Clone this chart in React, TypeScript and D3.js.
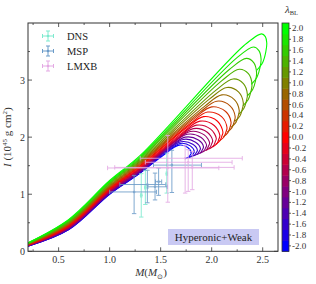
import React from "react";
import * as d3 from "d3";

// lambda_BL values, one I(M) sequence each
const lambdaValues = [-2.0, -1.8, -1.6, -1.4, -1.2, -1.0, -0.8, -0.6, -0.4, -0.2, 0.0, 0.2, 0.4, 0.6, 0.8, 1.0, 1.2, 1.4, 1.6, 1.8, 2.0];

// low-mass part of every sequence, I at these masses
const stableMass = [0.2, 0.6, 1.0, 1.3];
const stableInertia = [
  [0.090, 0.380, 1.000, 1.370],
  [0.091, 0.383, 1.004, 1.375],
  [0.092, 0.387, 1.010, 1.382],
  [0.094, 0.393, 1.017, 1.392],
  [0.096, 0.399, 1.025, 1.403],
  [0.099, 0.406, 1.034, 1.415],
  [0.101, 0.413, 1.044, 1.427],
  [0.104, 0.421, 1.055, 1.441],
  [0.107, 0.430, 1.066, 1.456],
  [0.110, 0.439, 1.078, 1.471],
  [0.113, 0.448, 1.091, 1.487],
  [0.116, 0.458, 1.104, 1.504],
  [0.119, 0.468, 1.117, 1.522],
  [0.123, 0.478, 1.131, 1.540],
  [0.126, 0.489, 1.146, 1.558],
  [0.130, 0.500, 1.160, 1.577],
  [0.134, 0.512, 1.176, 1.597],
  [0.138, 0.523, 1.191, 1.617],
  [0.142, 0.535, 1.207, 1.638],
  [0.146, 0.548, 1.223, 1.659],
  [0.150, 0.560, 1.240, 1.680],
];

// upper part: approach, top, shoulder, max mass, unstable hook
const hookPoints = [
  [[1.51, 1.66], [1.68, 1.86], [1.766, 1.818], [1.80, 1.72], [1.79, 1.688], [1.776, 1.652], [1.74, 1.624]],
  [[1.52, 1.69], [1.69, 1.89], [1.791, 1.847], [1.83, 1.745], [1.82, 1.71], [1.806, 1.67], [1.769, 1.639]],
  [[1.53, 1.72], [1.70, 1.92], [1.815, 1.875], [1.86, 1.77], [1.85, 1.732], [1.835, 1.688], [1.798, 1.655]],
  [[1.55, 1.76], [1.72, 1.96], [1.842, 1.912], [1.89, 1.80], [1.88, 1.758], [1.865, 1.712], [1.827, 1.675]],
  [[1.57, 1.80], [1.74, 2.00], [1.87, 1.949], [1.92, 1.83], [1.91, 1.785], [1.894, 1.735], [1.856, 1.696]],
  [[1.59, 1.85], [1.76, 2.05], [1.897, 1.993], [1.95, 1.86], [1.94, 1.812], [1.924, 1.758], [1.885, 1.716]],
  [[1.62, 1.90], [1.79, 2.10], [1.927, 2.04], [1.98, 1.90], [1.97, 1.847], [1.953, 1.788], [1.914, 1.742]],
  [[1.65, 1.95], [1.82, 2.15], [1.957, 2.087], [2.01, 1.94], [2.00, 1.882], [1.983, 1.818], [1.942, 1.767]],
  [[1.68, 2.01], [1.85, 2.21], [1.99, 2.141], [2.045, 1.98], [2.035, 1.918], [2.017, 1.847], [1.976, 1.793]],
  [[1.715, 2.08], [1.885, 2.28], [2.025, 2.205], [2.08, 2.03], [2.07, 1.963], [2.052, 1.887], [2.009, 1.828]],
  [[1.75, 2.16], [1.92, 2.36], [2.057, 2.279], [2.11, 2.09], [2.10, 2.018], [2.081, 1.937], [2.038, 1.874]],
  [[1.79, 2.24], [1.96, 2.44], [2.097, 2.359], [2.15, 2.17], [2.14, 2.092], [2.12, 2.003], [2.076, 1.935]],
  [[1.83, 2.33], [2.00, 2.53], [2.137, 2.449], [2.19, 2.26], [2.18, 2.175], [2.159, 2.08], [2.114, 2.006]],
  [[1.88, 2.43], [2.05, 2.63], [2.18, 2.549], [2.23, 2.36], [2.22, 2.269], [2.199, 2.166], [2.152, 2.086]],
  [[1.93, 2.54], [2.10, 2.74], [2.222, 2.659], [2.27, 2.47], [2.26, 2.371], [2.238, 2.259], [2.189, 2.172]],
  [[1.98, 2.67], [2.15, 2.87], [2.265, 2.789], [2.31, 2.60], [2.30, 2.493], [2.277, 2.372], [2.227, 2.278]],
  [[2.04, 2.82], [2.21, 3.02], [2.311, 2.939], [2.35, 2.75], [2.34, 2.633], [2.315, 2.502], [2.264, 2.40]],
  [[2.10, 2.99], [2.27, 3.19], [2.36, 3.112], [2.395, 2.93], [2.385, 2.804], [2.359, 2.661], [2.306, 2.551]],
  [[2.17, 3.18], [2.34, 3.38], [2.412, 3.305], [2.44, 3.13], [2.43, 2.992], [2.403, 2.838], [2.347, 2.717]],
  [[2.24, 3.38], [2.41, 3.58], [2.463, 3.517], [2.484, 3.37], [2.474, 3.221], [2.445, 3.054], [2.388, 2.924]],
  [[2.32, 3.61], [2.49, 3.81], [2.526, 3.762], [2.54, 3.65], [2.53, 3.49], [2.50, 3.31], [2.44, 3.17]],
];

// observations: [M, I, M-, M+, I-, I+]
const dnsData = [
  [1.31, 0.98, 0.006, 0.006, 0.38, 0.38],
  [1.35, 1.12, 0.006, 0.006, 0.30, 0.30],
  [1.56, 1.36, 0.006, 0.006, 0.34, 0.36],
];
const mspData = [
  [1.24, 1.04, 0.24, 0.22, 0.38, 0.29],
  [1.37, 1.17, 0.27, 0.18, 0.32, 0.25],
  [1.445, 1.13, 0.07, 0.12, 0.23, 0.24],
  [1.48, 1.22, 0.03, 0.03, 0.24, 0.24],
  [1.61, 1.51, 0.18, 0.29, 0.48, 0.26],
];
const lmxbData = [
  [1.57, 1.46, 0.59, 0.50, 0.60, 0.57],
  [1.74, 1.63, 0.44, 0.56, 0.61, 0.22],
  [1.77, 1.56, 0.42, 0.43, 0.51, 0.22],
  [1.81, 1.47, 0.76, 0.41, 0.39, 0.28],
];

const groups = [
  { name: "DNS", data: dnsData, color: "#7eeacf" },
  { name: "MSP", data: mspData, color: "#6b9bc8" },
  { name: "LMXB", data: lmxbData, color: "#e4a9e4" },
];

const xMajor = [0.5, 1.0, 1.5, 2.0, 2.5];
const xMinor = [0.25, 0.75, 1.25, 1.75, 2.25];
const yMajor = [0, 1, 2, 3];
const yMinor = [0.5, 1.5, 2.5, 3.5];

const font = "'Liberation Serif', 'Times New Roman', serif";
const axisColor = "#333";

const left = 28, right = 278, top = 23, bottom = 251.3;

function ErrorBar({ d, color, x, y }: any) {
  const [m, i, ml, mh, il, ih] = d;
  const cx = x(m), cy = y(i);
  const x0 = x(m - ml), x1 = x(m + mh);
  const y0 = y(i - il), y1 = y(i + ih);
  const c = 2.2;
  return (
    <g stroke={color} strokeWidth={1} opacity={0.85}>
      <line x1={x0} x2={x1} y1={cy} y2={cy} />
      <line x1={cx} x2={cx} y1={y0} y2={y1} />
      <line x1={x0} x2={x0} y1={cy - c} y2={cy + c} />
      <line x1={x1} x2={x1} y1={cy - c} y2={cy + c} />
      <line x1={cx - c} x2={cx + c} y1={y0} y2={y0} />
      <line x1={cx - c} x2={cx + c} y1={y1} y2={y1} />
      <circle cx={cx} cy={cy} r={1.3} fill={color} stroke="none" />
    </g>
  );
}

export default function App() {
  const x = d3.scaleLinear().domain([0.2, 2.65]).range([left, right]);
  const y = d3.scaleLinear().domain([0, 4]).range([bottom, top]);
  const color = d3
    .scaleLinear<string>()
    .domain([-2, 0, 2])
    .range(["#0000ff", "#ff0000", "#00ff00"])
    .interpolate(d3.interpolateRgb);
  const line = d3
    .line<number[]>()
    .x((d) => x(d[0]))
    .y((d) => y(d[1]))
    .curve(d3.curveCatmullRom.alpha(0.5));

  const curves = lambdaValues.map((lam, k) => ({
    lam,
    pts: stableMass.map((m, j) => [m, stableInertia[k][j]]).concat(hookPoints[k]),
  }));

  // colorbar
  const cbX = 282, cbW = 7;
  const cb = d3.scaleBand<number>().domain(lambdaValues.slice().reverse()).range([top, bottom]);

  return (
    <svg width={316} height={284} style={{ position: "absolute", left: 0, top: 0, background: "#fff" }}>
      <defs>
        <clipPath id="plotClip">
          <rect x={left} y={top} width={right - left} height={bottom - top} />
        </clipPath>
      </defs>

      <g clipPath="url(#plotClip)" fill="none">
        {curves.map((c) => (
          <path key={c.lam} d={line(c.pts as any) || ""} stroke={color(c.lam)} strokeWidth={1.1} />
        ))}
      </g>

      {groups.map((g) => (
        <g key={g.name}>
          {g.data.map((d, k) => (
            <ErrorBar key={k} d={d} color={g.color} x={x} y={y} />
          ))}
        </g>
      ))}

      {/* annotation box */}
      <rect x={168} y={229} width={91} height={16} fill="#c9c9f3" />
      <text x={213.5} y={241} textAnchor="middle" fontFamily={font} fontSize={11} fill="#222">
        Hyperonic+Weak
      </text>

      {/* legend */}
      {groups.map((g, k) => {
        const ly = 36 + k * 15;
        return (
          <g key={g.name}>
            <g stroke={g.color} strokeWidth={1}>
              <line x1={42.5} x2={53.5} y1={ly} y2={ly} />
              <line x1={48} x2={48} y1={ly - 5} y2={ly + 5} />
              <line x1={42.5} x2={42.5} y1={ly - 2} y2={ly + 2} />
              <line x1={53.5} x2={53.5} y1={ly - 2} y2={ly + 2} />
              <line x1={46} x2={50} y1={ly - 5} y2={ly - 5} />
              <line x1={46} x2={50} y1={ly + 5} y2={ly + 5} />
              <circle cx={48} cy={ly} r={1.3} fill={g.color} stroke="none" />
            </g>
            <text x={67} y={ly + 3.5} fontFamily={font} fontSize={10.5} fill="#222">
              {g.name}
            </text>
          </g>
        );
      })}

      {/* frame and ticks */}
      <rect x={left} y={top} width={right - left} height={bottom - top} fill="none" stroke={axisColor} strokeWidth={1} />
      <g stroke={axisColor} strokeWidth={0.8}>
        {xMajor.map((v) => (
          <g key={"xM" + v}>
            <line x1={x(v)} x2={x(v)} y1={bottom} y2={bottom - 4} />
            <line x1={x(v)} x2={x(v)} y1={top} y2={top + 4} />
          </g>
        ))}
        {xMinor.map((v) => (
          <g key={"xm" + v}>
            <line x1={x(v)} x2={x(v)} y1={bottom} y2={bottom - 2} />
            <line x1={x(v)} x2={x(v)} y1={top} y2={top + 2} />
          </g>
        ))}
        {yMajor.map((v) => (
          <g key={"yM" + v}>
            <line x1={left} x2={left + 4} y1={y(v)} y2={y(v)} />
            <line x1={right} x2={right - 4} y1={y(v)} y2={y(v)} />
          </g>
        ))}
        {yMinor.map((v) => (
          <g key={"ym" + v}>
            <line x1={left} x2={left + 2} y1={y(v)} y2={y(v)} />
            <line x1={right} x2={right - 2} y1={y(v)} y2={y(v)} />
          </g>
        ))}
      </g>
      <g fontFamily={font} fontSize={10} fill="#333">
        {xMajor.map((v) => (
          <text key={"xl" + v} x={x(v)} y={bottom + 12} textAnchor="middle">
            {d3.format(".1f")(v)}
          </text>
        ))}
        {yMajor.map((v) => (
          <text key={"yl" + v} x={left - 3} y={y(v) + 3.5} textAnchor="end">
            {v}
          </text>
        ))}
      </g>

      {/* axis labels */}
      <text x={151} y={276} textAnchor="middle" fontFamily={font} fontSize={11} fill="#333">
        <tspan fontStyle="italic">M</tspan>(<tspan fontStyle="italic">M</tspan>
        <tspan fontSize={7} dy={2.5}>⊙</tspan>
        <tspan dy={-2.5}>)</tspan>
      </text>
      <text transform={`translate(11,${(top + bottom) / 2}) rotate(-90)`} textAnchor="middle" fontFamily={font} fontSize={11} fill="#333">
        <tspan fontStyle="italic">I</tspan> (10<tspan fontSize={7} dy={-4}>45</tspan>
        <tspan dy={4}> g cm</tspan>
        <tspan fontSize={7} dy={-4}>2</tspan>
        <tspan dy={4}>)</tspan>
      </text>

      {/* colorbar */}
      {lambdaValues.map((lam) => (
        <rect key={"cb" + lam} x={cbX} y={cb(lam)} width={cbW} height={cb.bandwidth() + 0.5} fill={color(lam)} />
      ))}
      <rect x={cbX} y={top} width={cbW} height={bottom - top} fill="none" stroke={axisColor} strokeWidth={0.8} />
      <g fontFamily={font} fontSize={9} fill="#333">
        {lambdaValues.map((lam) => {
          const cy = (cb(lam) as number) + cb.bandwidth() / 2;
          return (
            <g key={"cl" + lam}>
              <line x1={cbX + cbW} x2={cbX + cbW + 2} y1={cy} y2={cy} stroke={axisColor} strokeWidth={0.8} />
              <text x={cbX + cbW + 3} y={cy + 3}>
                {d3.format(".1f")(lam).replace("−", "-")}
              </text>
            </g>
          );
        })}
      </g>
      <text x={285} y={13} fontFamily={font} fontSize={11} fill="#333">
        <tspan fontStyle="italic">λ</tspan>
        <tspan fontSize={6.5} dy={2}>BL</tspan>
      </text>
    </svg>
  );
}
